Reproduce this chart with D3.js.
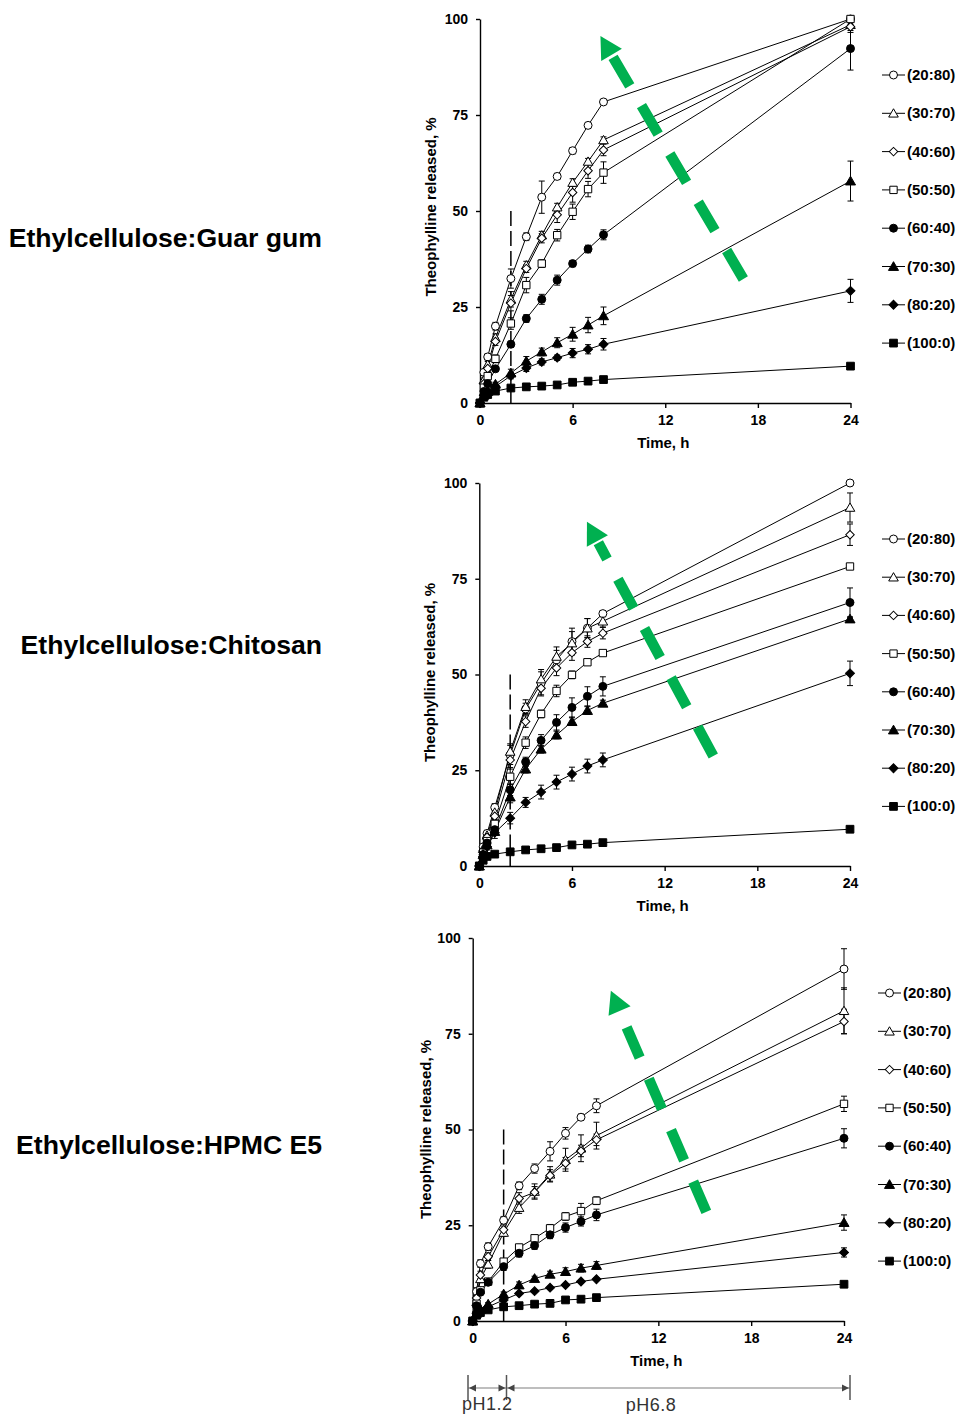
<!DOCTYPE html>
<html><head><meta charset="utf-8">
<script src="https://cdn.jsdelivr.net/npm/d3@7"></script>
<style>
body{margin:0;background:#fff}
svg{display:block}
text{font-family:Arial,"Liberation Sans",sans-serif}
</style>
</head><body>
<svg id="c" width="961" height="1414"></svg>
<script>
// ---------- DATA ----------
const times = [0, 0.25, 0.5, 1, 2, 3, 4, 5, 6, 7, 8, 24];
const ratios = ["(20:80)", "(30:70)", "(40:60)", "(50:50)", "(60:40)", "(70:30)", "(80:20)", "(100:0)"];
const xTicks = [0, 6, 12, 18, 24];
const yTicks = [0, 25, 50, 75, 100];
const titles = ["Ethylcellulose:Guar gum", "Ethylcellulose:Chitosan", "Ethylcellulose:HPMC E5"];
const yLabel = "Theophylline released, %";
const xLabel = "Time, h";

// Guar gum
const guar2080 = [0, 8, 12, 20, 32.4, 43.3, 53.6, 59, 65.7, 72.3, 78.4, 100];
const guar3070 = [0, 6, 10, 17, 27, 35.9, 43.7, 51, 57.4, 62.9, 68.5, 98.5];
const guar4060 = [0, 5, 9, 16, 26, 35, 42.9, 49, 54.8, 60.5, 65.9, 98];
const guar5050 = [0, 4, 7, 11.5, 20.7, 30.7, 36.3, 43.7, 49.8, 55.7, 60, 100];
const guar6040 = [0, 3, 5, 8.9, 15.3, 22, 27, 32, 36.3, 40.1, 43.8, 92.3];
const guar7030 = [0, 2, 3, 4.9, 7.8, 10.9, 13.3, 15.7, 17.9, 20.3, 22.7, 57.8];
const guar8020 = [0, 2, 3, 4.3, 7.1, 9.1, 10.7, 11.8, 13, 14, 15.3, 29.2];
const guar1000 = [0, 1.5, 2.2, 3.1, 3.9, 4.2, 4.4, 4.7, 5.4, 5.7, 6.1, 9.6];
const guarErr2080 = [0, 0.5, 0.8, 1, 2.5, 1, 4.2, 0.8, 0.8, 0.6, 0.6, 0.5];
const guarErr3070 = [0, 0.5, 0.8, 1, 2, 1, 1, 1, 1, 0.8, 0.8, 1.5];
const guarErr4060 = [0, 0.5, 0.8, 1, 2, 1, 1.2, 2, 2.5, 2, 1.5, 1.5];
const guarErr5050 = [0, 0.5, 0.8, 1, 1.5, 2, 1, 1.5, 2, 2, 2.8, 0.5];
const guarErr6040 = [0, 0.3, 0.5, 0.6, 0.8, 1, 1.3, 1.3, 0.8, 1, 1.3, 5.6];
const guarErr7030 = [0, 0.3, 0.4, 0.5, 1, 1.2, 1, 1.3, 1.8, 2, 2.3, 5.2];
const guarErr8020 = [0, 0.3, 0.4, 0.5, 0.8, 0.9, 0.8, 0.7, 1.2, 1.2, 1.5, 3];
const guarErr1000 = [0, 0.2, 0.2, 0.3, 0.3, 0.3, 0.3, 0.4, 0.4, 0.4, 0.4, 0.5];

// Chitosan
const chit2080 = [0, 5, 8.5, 15.3, 29, 41, 47.7, 53.8, 58.6, 62.1, 65.9, 100];
const chit3070 = [0, 4.5, 8, 14, 29.9, 41.6, 48.8, 54.7, 58.2, 62.1, 63.9, 93.6];
const chit4060 = [0, 4, 7.5, 13, 27.7, 37.7, 46.4, 51.7, 55.7, 58.6, 60.8, 86.5];
const chit5050 = [0, 3.5, 6.5, 11, 23.3, 32.2, 39.7, 45.7, 49.9, 53.2, 55.6, 78.2];
const chit6040 = [0, 3, 6, 9.5, 19.9, 27.2, 32.8, 37.5, 41.4, 44.3, 46.9, 68.8];
const chit7030 = [0, 3, 5.5, 9, 18, 25.3, 30.5, 34.2, 37.7, 40.6, 42.5, 64.5];
const chit8020 = [0, 2.5, 5, 8.7, 12.5, 16.6, 19.3, 21.9, 24, 26.1, 27.7, 50.3];
const chit1000 = [0, 1.5, 2.5, 3.1, 3.7, 4.2, 4.5, 4.8, 5.5, 5.7, 6.1, 9.6];
const chitErr2080 = [0, 0.5, 0.8, 1, 2.5, 1.5, 3, 2.5, 3.5, 2.5, 0.8, 0.3];
const chitErr3070 = [0, 0.5, 0.8, 1, 2, 1.8, 2.5, 2.5, 3, 2.5, 1.5, 3.8];
const chitErr4060 = [0, 0.5, 0.8, 1, 2, 1.5, 2, 2, 2, 1.5, 1.5, 2.8];
const chitErr5050 = [0, 0.5, 0.8, 1, 2, 1.5, 1, 1.5, 1, 0.8, 0.6, 0.5];
const chitErr6040 = [0, 0.5, 0.7, 1, 1.5, 1.2, 1.5, 2, 2.5, 2.5, 2.5, 3.8];
const chitErr7030 = [0, 0.5, 0.7, 1, 1.5, 1, 1, 1, 1, 1, 0.8, 0.5];
const chitErr8020 = [0, 0.5, 0.8, 1.5, 1.5, 1.3, 1.8, 1.8, 1.8, 1.8, 1.8, 3.2];
const chitErr1000 = [0, 0.2, 0.2, 0.3, 0.3, 0.3, 0.3, 0.3, 0.3, 0.3, 0.3, 0.4];

// HPMC E5
const hpmc2080 = [0, 7.7, 15, 19.4, 26.3, 35.3, 39.8, 44.3, 49, 53.2, 56.2, 91.9];
const hpmc3070 = [0, 5, 11, 14.8, 23.1, 29.6, 33.8, 38.3, 42.1, 45.1, 48.4, 81];
const hpmc4060 = [0, 6, 12, 16.8, 23.8, 32, 33.6, 38, 41.2, 44.4, 47.3, 78.2];
const hpmc5050 = [0, 4.5, 8, 10.3, 15.5, 19.2, 21.6, 24.2, 27.3, 28.7, 31.4, 56.7];
const hpmc6040 = [0, 4, 7.5, 10.1, 14.2, 17.7, 19.7, 22.5, 24.4, 26, 27.7, 47.7];
const hpmc7030 = [0, 2, 3, 4.4, 7, 9.4, 11.1, 12.2, 12.9, 13.8, 14.5, 25.7];
const hpmc8020 = [0, 2, 2.8, 3.7, 5.5, 7.2, 7.8, 8.7, 9.4, 10.3, 10.9, 17.9];
const hpmc1000 = [0, 1.5, 2.2, 2.9, 3.7, 4, 4.4, 4.6, 5.5, 5.7, 6.1, 9.6];
const hpmcErr2080 = [0, 1, 1, 1, 1, 1, 1.2, 2.5, 1.5, 0.8, 1.8, 5.3];
const hpmcErr3070 = [0, 1, 1, 1, 1, 1.5, 2, 2, 3, 3.5, 3.5, 6];
const hpmcErr4060 = [0, 1, 1, 1, 1, 1.5, 1.5, 1.5, 1.5, 1.5, 1.5, 3.2];
const hpmcErr5050 = [0, 0.5, 0.6, 0.6, 0.8, 0.8, 0.8, 1, 1, 2, 1, 2];
const hpmcErr6040 = [0, 0.5, 0.6, 0.6, 1, 1, 1, 1, 1.2, 1.2, 1.5, 2.5];
const hpmcErr7030 = [0, 0.3, 0.4, 0.4, 0.6, 0.8, 0.6, 0.8, 1, 1, 1, 2];
const hpmcErr8020 = [0, 0.3, 0.3, 0.3, 0.3, 0.3, 0.3, 0.3, 0.3, 0.3, 0.3, 1.2];
const hpmcErr1000 = [0, 0.2, 0.2, 0.2, 0.2, 0.2, 0.2, 0.2, 0.3, 0.3, 0.3, 0.3];

// annotations (data units)
const phSwitchTime = 2;          // h, dashed line
const phSwitchTop = 50;          // %
const arrowTips = [[7.8, 95.6], [6.97, 89.9], [8.93, 86.2]];
const arrowTails = [[17.06, 32.3], [15.15, 28.7], [15.1, 28.5]];
const phLabels = ["pH1.2", "pH6.8"];
const phBounds = [0, 2, 24];
const phLabelAt = [1, 11.25];

// ---------- LAYOUT / STYLE ----------
const panels = [
  { vals: [guar2080, guar3070, guar4060, guar5050, guar6040, guar7030, guar8020, guar1000],
    errs: [guarErr2080, guarErr3070, guarErr4060, guarErr5050, guarErr6040, guarErr7030, guarErr8020, guarErr1000],
    L: { x0: 480, x1: 850.5, y0: 403, y1: 19, legX: 882, legY: 75, legDy: 38.3, titleY: 247, yLabX: 436, yLabDy: -4, xLabY: 448 } },
  { vals: [chit2080, chit3070, chit4060, chit5050, chit6040, chit7030, chit8020, chit1000],
    errs: [chitErr2080, chitErr3070, chitErr4060, chitErr5050, chitErr6040, chitErr7030, chitErr8020, chitErr1000],
    L: { x0: 479.3, x1: 850, y0: 866, y1: 483, legX: 882, legY: 539, legDy: 38.2, titleY: 654, yLabX: 435, yLabDy: -2, xLabY: 911 } },
  { vals: [hpmc2080, hpmc3070, hpmc4060, hpmc5050, hpmc6040, hpmc7030, hpmc8020, hpmc1000],
    errs: [hpmcErr2080, hpmcErr3070, hpmcErr4060, hpmcErr5050, hpmcErr6040, hpmcErr7030, hpmcErr8020, hpmcErr1000],
    L: { x0: 472.7, x1: 844, y0: 1321, y1: 938, legX: 878, legY: 993, legDy: 38.3, titleY: 1154, yLabX: 431, yLabDy: 0, xLabY: 1366 } }
];

const markerType = [d3.symbolCircle, d3.symbolTriangle, "diamond", d3.symbolSquare, d3.symbolCircle, d3.symbolTriangle, "diamond", d3.symbolSquare];
const markerFill = ["#fff", "#fff", "#fff", "#fff", "#000", "#000", "#000", "#000"];
const markerSize = [50, 40, 36, 54, 50, 44, 40, 60];
const GREEN = "#00b050";

const svg = d3.select("#c");
svg.append("rect").attr("width", 961).attr("height", 1414).attr("fill", "#fff");

function markerPath(i) {
  if (markerType[i] === "diamond") return d3.symbol(d3.symbolSquare, markerSize[i])();
  return d3.symbol(markerType[i], markerSize[i])();
}
function drawMarker(g, i, x, y) {
  const p = g.append("path").attr("d", markerPath(i))
    .attr("fill", markerFill[i]).attr("stroke", "#000").attr("stroke-width", 1);
  if (markerType[i] === "diamond") p.attr("transform", `translate(${x},${y}) rotate(45)`);
  else if (markerType[i] === d3.symbolTriangle) p.attr("transform", `translate(${x},${y + 1})`);
  else p.attr("transform", `translate(${x},${y})`);
}

panels.forEach((P, pi) => {
  const L = P.L;
  const x = d3.scaleLinear().domain([0, 24]).range([L.x0, L.x1]);
  const y = d3.scaleLinear().domain([0, 100]).range([L.y0, L.y1]);
  const g = svg.append("g");

  // title
  svg.append("text").attr("x", 322).attr("y", L.titleY).attr("text-anchor", "end")
    .attr("font-size", 26.6).attr("font-weight", "bold").text(titles[pi]);

  // axes
  const ax = g.append("g").attr("transform", `translate(0,${L.y0})`)
    .call(d3.axisBottom(x).tickValues(xTicks).tickSize(5).tickSizeOuter(0).tickPadding(7));
  const ay = g.append("g").attr("transform", `translate(${L.x0},0)`)
    .call(d3.axisLeft(y).tickValues(yTicks).tickSize(4).tickSizeOuter(0).tickPadding(8));
  [ax, ay].forEach(a => {
    a.selectAll("path,line").attr("stroke", "#000").attr("stroke-width", 1.4);
    a.selectAll("text").attr("font-size", 14).attr("font-weight", "bold").attr("fill", "#000")
      .attr("font-family", "Arial, 'Liberation Sans', sans-serif");
  });

  // axis labels
  g.append("text").attr("x", (L.x0 + L.x1) / 2 - 2).attr("y", L.xLabY).attr("text-anchor", "middle")
    .attr("font-size", 15).attr("font-weight", "bold").text(xLabel);
  g.append("text").attr("transform", `translate(${L.yLabX},${(L.y0 + L.y1) / 2 + L.yLabDy}) rotate(-90)`)
    .attr("text-anchor", "middle").attr("font-size", 15).attr("font-weight", "bold").text(yLabel);

  // pH switch dashed line
  g.append("line").attr("x1", x(phSwitchTime)).attr("x2", x(phSwitchTime))
    .attr("y1", y(phSwitchTop)).attr("y2", y(0))
    .attr("stroke", "#000").attr("stroke-width", 1.5).attr("stroke-dasharray", "15,5");

  // series lines
  const line = d3.line().x((d, k) => x(times[k])).y(d => y(d));
  P.vals.forEach((vals, si) => {
    g.append("path").attr("d", line(vals)).attr("fill", "none").attr("stroke", "#000").attr("stroke-width", 1);
  });
  // error bars
  P.vals.forEach((vals, si) => {
    vals.forEach((v, k) => {
      const e = P.errs[si][k];
      if (!e) return;
      const cx = x(times[k]);
      g.append("line").attr("x1", cx).attr("x2", cx).attr("y1", y(v - e)).attr("y2", y(v + e))
        .attr("stroke", "#000").attr("stroke-width", 1);
      [v - e, v + e].forEach(t => g.append("line").attr("x1", cx - 3).attr("x2", cx + 3)
        .attr("y1", y(t)).attr("y2", y(t)).attr("stroke", "#000").attr("stroke-width", 1));
    });
  });
  // markers
  P.vals.forEach((vals, si) => {
    vals.forEach((v, k) => drawMarker(g, si, x(times[k]), y(v)));
  });

  // legend
  ratios.forEach((r, si) => {
    const ly = L.legY + si * L.legDy;
    g.append("line").attr("x1", L.legX).attr("x2", L.legX + 23).attr("y1", ly).attr("y2", ly)
      .attr("stroke", "#000").attr("stroke-width", 1);
    drawMarker(g, si, L.legX + 11.5, ly);
    g.append("text").attr("x", L.legX + 25).attr("y", ly + 5).attr("font-size", 15)
      .attr("font-weight", "bold").text(r);
  });

  // green dashed arrow
  const tip = [x(arrowTips[pi][0]), y(arrowTips[pi][1])];
  const tail = [x(arrowTails[pi][0]), y(arrowTails[pi][1])];
  const dx = tip[0] - tail[0], dy = tip[1] - tail[1];
  const len = Math.hypot(dx, dy), ux = dx / len, uy = dy / len;
  const headH = 22, headW = 24;
  const base = [tip[0] - ux * headH, tip[1] - uy * headH];
  g.append("line").attr("x1", tail[0]).attr("y1", tail[1])
    .attr("x2", base[0] - ux * 2).attr("y2", base[1] - uy * 2)
    .attr("stroke", GREEN).attr("stroke-width", 10.5).attr("stroke-dasharray", "33,23");
  const px = -uy, py = ux;
  g.append("path").attr("d", `M${tip[0]},${tip[1]}L${base[0] + px * headW / 2},${base[1] + py * headW / 2}L${base[0] - px * headW / 2},${base[1] - py * headW / 2}Z`)
    .attr("fill", GREEN);
});

// pH annotation under the last panel
const phX = d3.scaleLinear().domain(phBounds).range([468, 506.5, 850]);
const pg = svg.append("g");
const lineY = 1388;
pg.append("line").attr("x1", phX(phBounds[0])).attr("x2", phX(phBounds[2])).attr("y1", lineY).attr("y2", lineY)
  .attr("stroke", "#a8a8a8").attr("stroke-width", 1.5);
phBounds.forEach(b => {
  pg.append("line").attr("x1", phX(b)).attr("x2", phX(b)).attr("y1", lineY - 13).attr("y2", lineY + 12)
    .attr("stroke", "#555").attr("stroke-width", 1.5);
});
function arrowHead(xTip, dir) {
  pg.append("path").attr("d", `M${xTip},${lineY}L${xTip - dir * 7},${lineY - 3.5}L${xTip - dir * 7},${lineY + 3.5}Z`)
    .attr("fill", "#444");
}
for (let i = 0; i < phBounds.length - 1; i++) {
  arrowHead(phX(phBounds[i]) + 1, -1);
  arrowHead(phX(phBounds[i + 1]) - 1, 1);
}
phLabels.forEach((t, i) => {
  pg.append("text").attr("x", phX(phLabelAt[i])).attr("y", 1410 + i).attr("text-anchor", "middle")
    .attr("font-size", 18).attr("fill", "#333").attr("letter-spacing", 0.5).text(t);
});
</script>
</body></html>
